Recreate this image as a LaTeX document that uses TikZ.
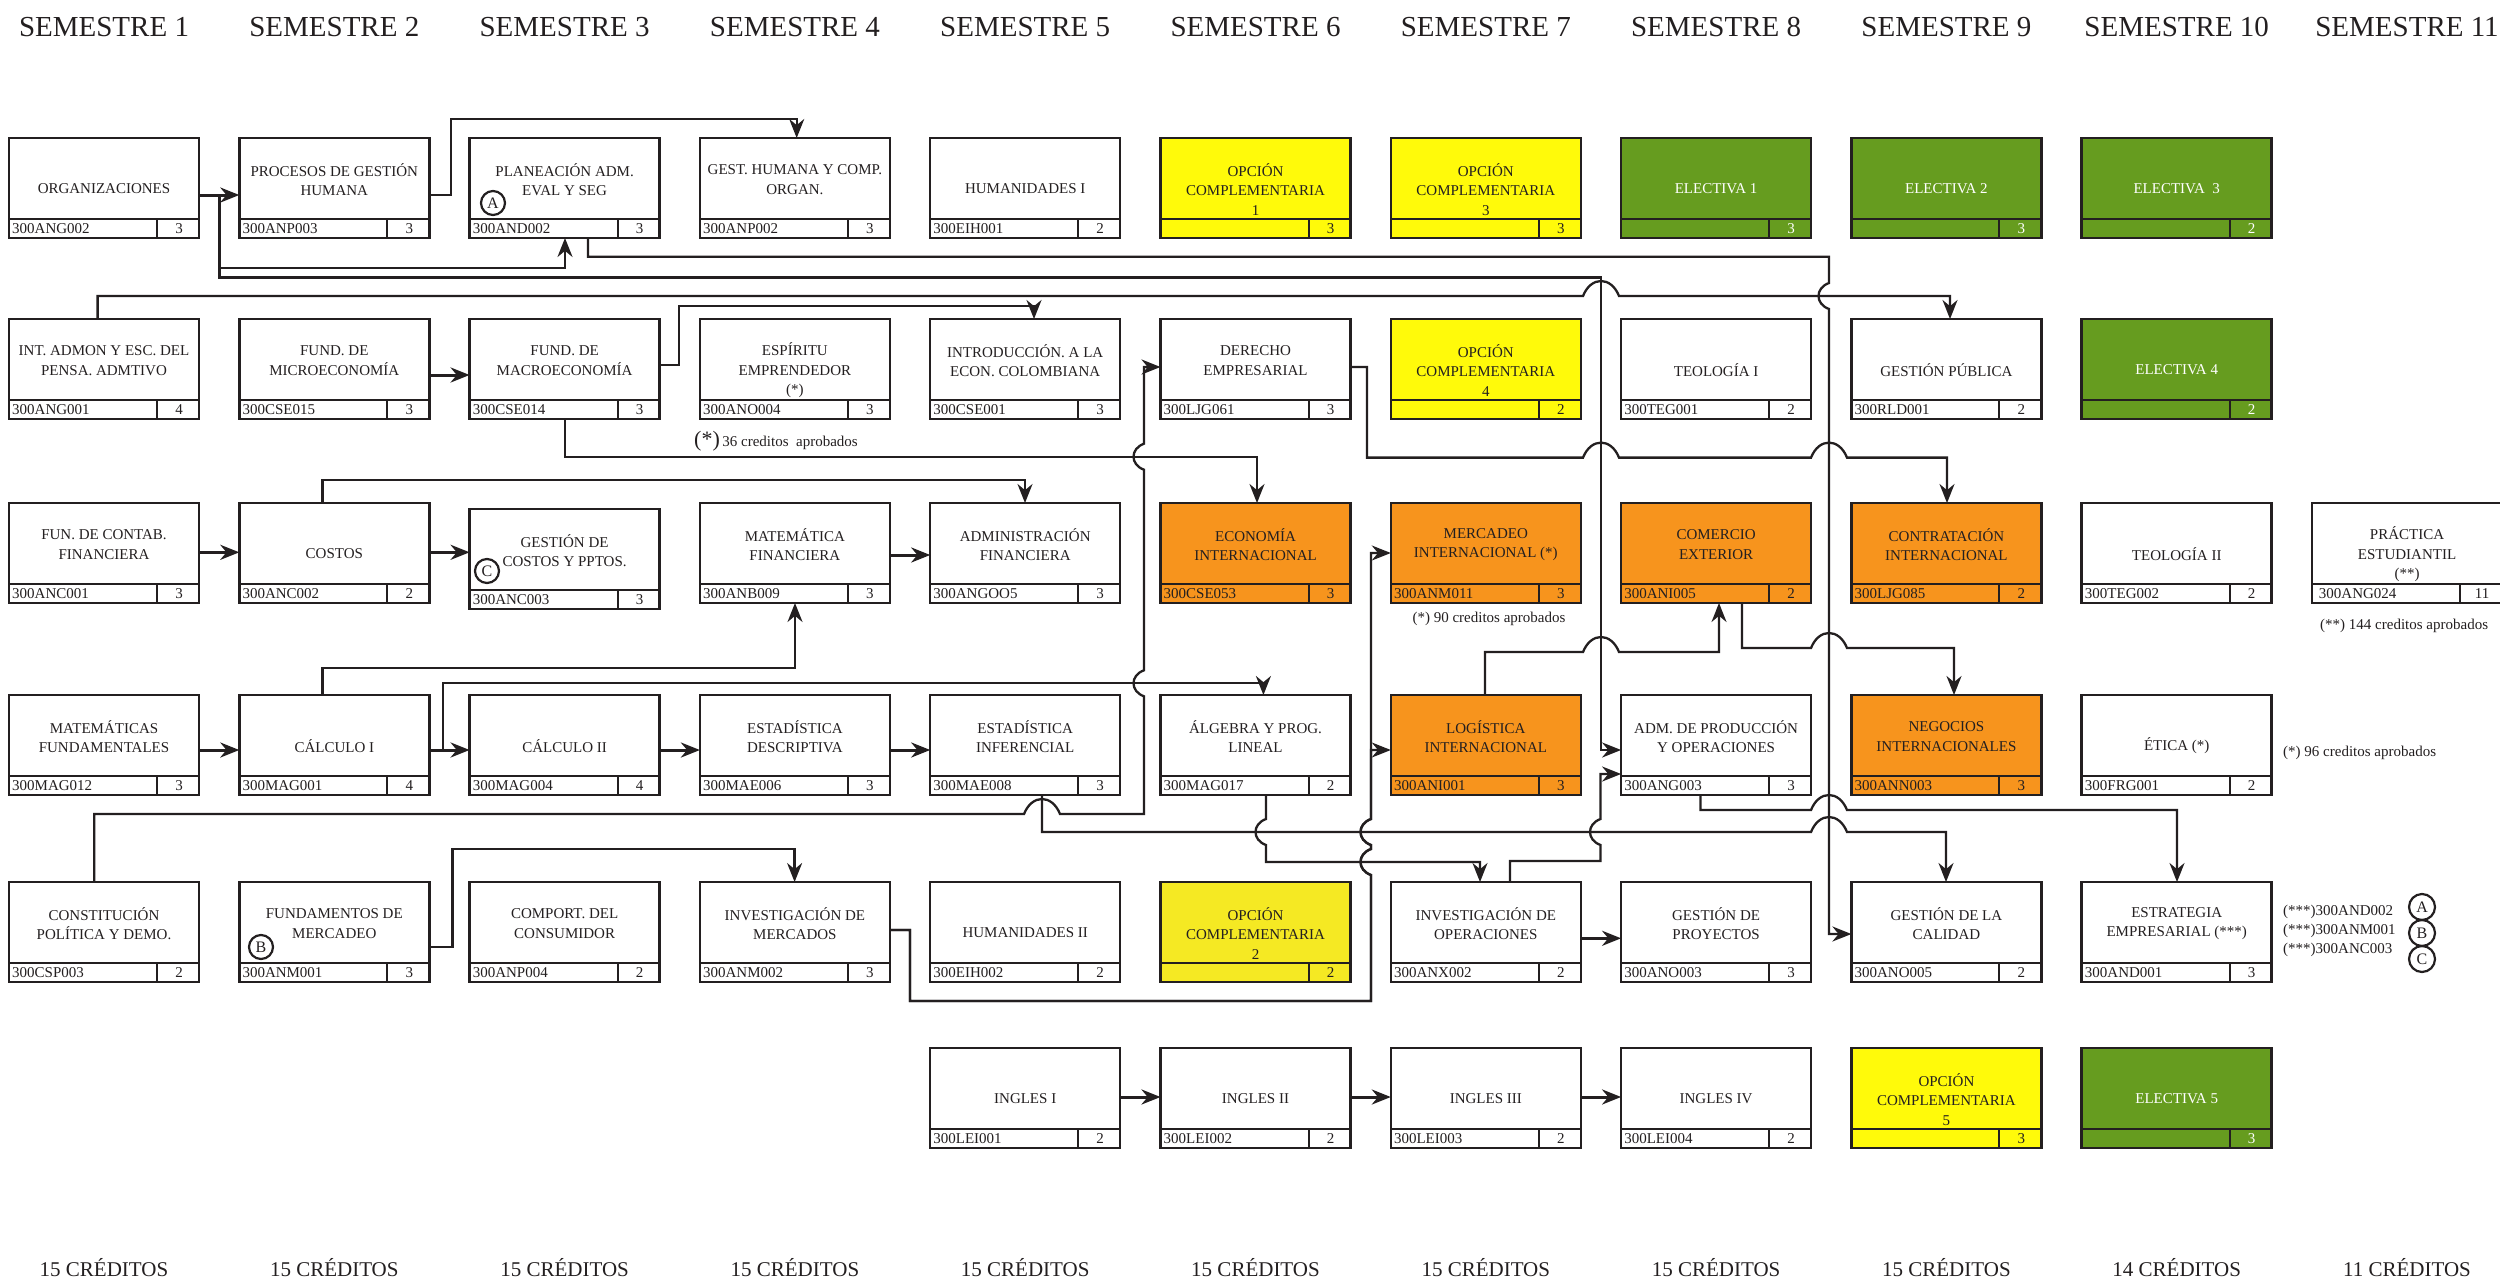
\documentclass[tikz,border=0pt]{standalone}
\usepackage{fontspec}
\setmainfont{Liberation Serif}
\usetikzlibrary{arrows.meta}
\definecolor{ink}{HTML}{231F20}
\definecolor{cyel}{RGB}{255,250,10}
\definecolor{cyeltwo}{RGB}{245,233,35}
\definecolor{cgrn}{RGB}{102,156,31}
\definecolor{corg}{RGB}{247,148,29}
\tikzset{
  cbox/.style={draw=ink, line width=2.5pt, minimum width=190pt, minimum height=100pt, inner sep=0pt, outer sep=0pt},
  ctext/.style={align=center, font=\fontsize{15}{19.5}\selectfont, inner sep=0pt},
  ccode/.style={font=\fontsize{15}{16}\selectfont, inner sep=0pt, anchor=west},
  cnum/.style={font=\fontsize{15}{16}\selectfont, inner sep=0pt},
  conn/.style={draw=ink, line width=2.3pt, -{Stealth[length=19pt,width=15pt]}},
  shortconn/.style={conn, line width=3pt},
  hdr/.style={font=\fontsize{29}{32}\selectfont, text=ink, inner sep=0pt},
  note/.style={font=\fontsize{15}{19}\selectfont, text=ink, inner sep=0pt},
  ring/.style={circle, draw=ink, line width=2.2pt, inner sep=0pt, minimum size=24pt, font=\fontsize{16}{16}\selectfont, text=ink},
}
% #1 name #2 left #3 top #4 fill #5 text colour #6 label offset #7 label #8 code #9 credits
\newcommand\course[9]{%
  \node[cbox, fill=#4] (#1) at ({#2+95},{#3+50}) {};
  \draw[ink, line width=2pt] ({#2},{#3+81}) -- ({#2+190},{#3+81}) ({#2+148},{#3+81}) -- ({#2+148},{#3+100});
  \node[ctext, text=#5] (#1l) at ({#2+95},{#3+#6}) {#7};
  \node[ccode, text=#5] (#1c) at ({#2+3},{#3+90.5}) {#8};
  \node[cnum, text=#5] (#1n) at ({#2+170},{#3+90.5}) {#9};
}
\newcommand\hjump[2]{-- ({#1-18},#2) .. controls ({#1-10},{#2-20}) and ({#1+10},{#2-20}) .. ({#1+18},#2)}
\newcommand\vjdown[2]{-- (#1,{#2-13}) .. controls ({#1-14},{#2-8}) and ({#1-14},{#2+8}) .. (#1,{#2+13})}
\newcommand\vjup[2]{-- (#1,{#2+13}) .. controls ({#1-14},{#2+8}) and ({#1-14},{#2-8}) .. (#1,{#2-13})}
\begin{document}
\begin{tikzpicture}[x=1pt,y=-1pt]
\fill[white] (0,0) rectangle (2500,1282);
\useasboundingbox (0,0) rectangle (2500,1282);
% headers
\foreach \i in {1,...,11} {
  \node[hdr] (h\i) at ({9+(\i-1)*230.3+95},27) {SEMESTRE \i};
}
\foreach \i/\c in {1/15,2/15,3/15,4/15,5/15,6/15,7/15,8/15,9/15,10/14,11/11} {
  \node[font=\fontsize{21}{24}\selectfont, text=ink, inner sep=0pt] (k\i) at ({9+(\i-1)*230.3+95},1268) {\c\ CRÉDITOS};
}
% row 1
\course{c1r1}{9}{138}{white}{ink}{51}{ORGANIZACIONES}{300ANG002}{3}
\course{c2r1}{239.3}{138}{white}{ink}{41.5}{PROCESOS DE GESTIÓN\\HUMANA}{300ANP003}{3}
\course{c3r1}{469.6}{138}{white}{ink}{41.5}{PLANEACIÓN ADM.\\EVAL Y SEG}{300AND002}{3}
\course{c4r1}{699.9}{138}{white}{ink}{41.5}{GEST. HUMANA Y COMP.\\ORGAN.}{300ANP002}{3}
\course{c5r1}{930.2}{138}{white}{ink}{51}{HUMANIDADES I}{300EIH001}{2}
\course{c6r1}{1160.5}{138}{cyel}{ink}{51.5}{OPCIÓN\\COMPLEMENTARIA\\1}{}{3}
\course{c7r1}{1390.8}{138}{cyel}{ink}{51.5}{OPCIÓN\\COMPLEMENTARIA\\3}{}{3}
\course{c8r1}{1621.1}{138}{cgrn}{white}{51}{ELECTIVA 1}{}{3}
\course{c9r1}{1851.4}{138}{cgrn}{white}{51}{ELECTIVA 2}{}{3}
\course{c10r1}{2081.7}{138}{cgrn}{white}{51}{ELECTIVA\ \ 3}{}{2}
% row 2
\course{c1r2}{9}{319}{white}{ink}{41.5}{INT. ADMON Y ESC. DEL\\PENSA. ADMTIVO}{300ANG001}{4}
\course{c2r2}{239.3}{319}{white}{ink}{41.5}{FUND. DE\\MICROECONOMÍA}{300CSE015}{3}
\course{c3r2}{469.6}{319}{white}{ink}{41.5}{FUND. DE\\MACROECONOMÍA}{300CSE014}{3}
\course{c4r2}{699.9}{319}{white}{ink}{51.5}{ESPÍRITU\\EMPRENDEDOR\\(*)}{300ANO004}{3}
\course{c5r2}{930.2}{319}{white}{ink}{41.5}{INTRODUCCIÓN. A LA\\ECON. COLOMBIANA}{300CSE001}{3}
\course{c6r2}{1160.5}{319}{white}{ink}{41.5}{DERECHO\\EMPRESARIAL}{300LJG061}{3}
\course{c7r2}{1390.8}{319}{cyel}{ink}{51.5}{OPCIÓN\\COMPLEMENTARIA\\4}{}{2}
\course{c8r2}{1621.1}{319}{white}{ink}{51}{TEOLOGÍA I}{300TEG001}{2}
\course{c9r2}{1851.4}{319}{white}{ink}{51}{GESTIÓN PÚBLICA}{300RLD001}{2}
\course{c10r2}{2081.7}{319}{cgrn}{white}{51}{ELECTIVA 4}{}{2}
% row 3
\course{c1r3}{9}{503}{white}{ink}{41.5}{FUN. DE CONTAB.\\FINANCIERA}{300ANC001}{3}
\course{c2r3}{239.3}{503}{white}{ink}{51}{COSTOS}{300ANC002}{2}
\course{c3r3}{469.6}{509}{white}{ink}{41.5}{GESTIÓN DE\\COSTOS Y PPTOS.}{300ANC003}{3}
\course{c4r3}{699.9}{503}{white}{ink}{41.5}{MATEMÁTICA\\FINANCIERA}{300ANB009}{3}
\course{c5r3}{930.2}{503}{white}{ink}{41.5}{ADMINISTRACIÓN\\FINANCIERA}{300ANGOO5}{3}
\course{c6r3}{1160.5}{503}{corg}{ink}{41.5}{ECONOMÍA\\INTERNACIONAL}{300CSE053}{3}
\course{c7r3}{1390.8}{503}{corg}{ink}{41.5}{MERCADEO\\INTERNACIONAL (*)}{300ANM011}{3}
\course{c8r3}{1621.1}{503}{corg}{ink}{41.5}{COMERCIO\\EXTERIOR}{300ANI005}{2}
\course{c9r3}{1851.4}{503}{corg}{ink}{41.5}{CONTRATACIÓN\\INTERNACIONAL}{300LJG085}{2}
\course{c10r3}{2081.7}{503}{white}{ink}{51}{TEOLOGÍA II}{300TEG002}{2}
\course{c11r3}{2312}{503}{white}{ink}{51.5}{PRÁCTICA\\ESTUDIANTIL\\(**)}{\ 300ANG024}{11}
% row 4
\course{c1r4}{9}{695}{white}{ink}{41.5}{MATEMÁTICAS\\FUNDAMENTALES}{300MAG012}{3}
\course{c2r4}{239.3}{695}{white}{ink}{51}{CÁLCULO I}{300MAG001}{4}
\course{c3r4}{469.6}{695}{white}{ink}{51}{CÁLCULO II}{300MAG004}{4}
\course{c4r4}{699.9}{695}{white}{ink}{41.5}{ESTADÍSTICA\\DESCRIPTIVA}{300MAE006}{3}
\course{c5r4}{930.2}{695}{white}{ink}{41.5}{ESTADÍSTICA\\INFERENCIAL}{300MAE008}{3}
\course{c6r4}{1160.5}{695}{white}{ink}{41.5}{ÁLGEBRA Y PROG.\\LINEAL}{300MAG017}{2}
\course{c7r4}{1390.8}{695}{corg}{ink}{41.5}{LOGÍSTICA\\INTERNACIONAL}{300ANI001}{3}
\course{c8r4}{1621.1}{695}{white}{ink}{41.5}{ADM. DE PRODUCCIÓN\\Y OPERACIONES}{300ANG003}{3}
\course{c9r4}{1851.4}{695}{corg}{ink}{41.5}{NEGOCIOS\\INTERNACIONALES}{300ANN003}{3}
\course{c10r4}{2081.7}{695}{white}{ink}{51}{ÉTICA (*)}{300FRG001}{2}
% row 5
\course{c1r5}{9}{882}{white}{ink}{41.5}{CONSTITUCIÓN\\POLÍTICA Y DEMO.}{300CSP003}{2}
\course{c2r5}{239.3}{882}{white}{ink}{41.5}{FUNDAMENTOS DE\\MERCADEO}{300ANM001}{3}
\course{c3r5}{469.6}{882}{white}{ink}{41.5}{COMPORT. DEL\\CONSUMIDOR}{300ANP004}{2}
\course{c4r5}{699.9}{882}{white}{ink}{41.5}{INVESTIGACIÓN DE\\MERCADOS}{300ANM002}{3}
\course{c5r5}{930.2}{882}{white}{ink}{51}{HUMANIDADES II}{300EIH002}{2}
\course{c6r5}{1160.5}{882}{cyeltwo}{ink}{51.5}{OPCIÓN\\COMPLEMENTARIA\\2}{}{2}
\course{c7r5}{1390.8}{882}{white}{ink}{41.5}{INVESTIGACIÓN DE\\OPERACIONES}{300ANX002}{2}
\course{c8r5}{1621.1}{882}{white}{ink}{41.5}{GESTIÓN DE\\PROYECTOS}{300ANO003}{3}
\course{c9r5}{1851.4}{882}{white}{ink}{41.5}{GESTIÓN DE LA\\CALIDAD}{300ANO005}{2}
\course{c10r5}{2081.7}{882}{white}{ink}{41.5}{ESTRATEGIA\\EMPRESARIAL (***)}{300AND001}{3}
% row 6
\course{c5r6}{930.2}{1048}{white}{ink}{51}{INGLES I}{300LEI001}{2}
\course{c6r6}{1160.5}{1048}{white}{ink}{51}{INGLES II}{300LEI002}{2}
\course{c7r6}{1390.8}{1048}{white}{ink}{51}{INGLES III}{300LEI003}{2}
\course{c8r6}{1621.1}{1048}{white}{ink}{51}{INGLES IV}{300LEI004}{2}
\course{c9r6}{1851.4}{1048}{cyel}{ink}{51.5}{OPCIÓN\\COMPLEMENTARIA\\5}{}{3}
\course{c10r6}{2081.7}{1048}{cgrn}{white}{51}{ELECTIVA 5}{}{3}
% rings in boxes
\node[ring] (ra) at (493,203) {A};
\node[ring] (rb) at (261,947) {B};
\node[ring] (rc) at (487,571) {C};
% notes
\node[note, anchor=west] (n36) at (694,441) {{\fontsize{22}{22}\selectfont(*)}\,36 creditos\ \ aprobados};
\node[note] (n90) at (1489,619) {(*) 90 creditos aprobados};
\node[note, anchor=west] (n144) at (2320,626) {(**) 144 creditos aprobados};
\node[note, anchor=west] (n96) at (2283,753) {(*) 96 creditos aprobados};
\node[note, anchor=west] (t1) at (2283,912) {(***)300AND002};
\node[note, anchor=west] (t2) at (2283,931) {(***)300ANM001};
\node[note, anchor=west] (t3) at (2283,950) {(***)300ANC003};
\node[ring, minimum size=26pt] (rA) at (2422,907) {A};
\node[ring, minimum size=26pt] (rB) at (2422,933) {B};
\node[ring, minimum size=26pt] (rC) at (2422,959) {C};
% connectors
\draw[shortconn] (c1r1.east |- 0,195) -- (c2r1.west |- 0,195);
\draw[conn] (c1r1.east |- 0,195) -- (219.5,195) -- (219.5,268) -- (565,268) -- (c3r1.south -| 565,0);
\draw[conn] (c1r1.east |- 0,195) -- (219.5,195) -- (219.5,277.5) -- (1601,277.5) -- (1601,750) -- (c8r4.west |- 0,750);
\draw[conn] (c2r1.east |- 0,195) -- (451,195) -- (451,119) -- (796.7,119) -- (c4r1.north -| 796.7,0);
\draw[conn] (c3r1.south -| 588,0) -- (588,256.7) -- (1829,256.7) \vjdown{1829}{296} -- (1829,934) -- (c9r5.west |- 0,934);
\draw[conn] (c1r2.north -| 97.6,0) -- (97.6,296) \hjump{1601}{296} -- (1950,296) -- (c9r2.north -| 1950,0);
\draw[shortconn] (c2r2.east |- 0,375) -- (c3r2.west |- 0,375);
\draw[conn] (c3r2.east |- 0,365) -- (679,365) -- (679,306) -- (1034,306) -- (c5r2.north -| 1034,0);
\draw[conn] (c3r2.south -| 565,0) -- (565,456.7) -- (1257,456.7) -- (c6r3.north -| 1257,0);
\draw[shortconn] (c1r3.east |- 0,552.3) -- (c2r3.west |- 0,552.3);
\draw[shortconn] (c2r3.east |- 0,552.3) -- (c3r3.west |- 0,552.3);
\draw[conn] (c2r3.north -| 322.5,0) -- (322.5,480) -- (1025,480) -- (c5r3.north -| 1025,0);
\draw[shortconn] (c4r3.east |- 0,555) -- (c5r3.west |- 0,555);
\draw[conn] (c2r4.north -| 322.5,0) -- (322.5,668.3) -- (795,668.3) -- (c4r3.south -| 795,0);
\draw[shortconn] (c1r4.east |- 0,750) -- (c2r4.west |- 0,750);
\draw[shortconn] (c2r4.east |- 0,750) -- (c3r4.west |- 0,750);
\draw[shortconn] (c3r4.east |- 0,750) -- (c4r4.west |- 0,750);
\draw[shortconn] (c4r4.east |- 0,750) -- (c5r4.west |- 0,750);
\draw[conn] (c2r4.east |- 0,750) -- (442.8,750) -- (442.8,683.3) -- (1263.4,683.3) -- (c6r4.north -| 1263.4,0);
\draw[conn] (c1r5.north -| 94.3,0) -- (94.3,814) \hjump{1042}{814} -- (1144,814) \vjup{1144}{683.3} \vjup{1144}{456.7} -- (1144,367) -- (c6r2.west |- 0,367);
\draw[conn] (c5r4.south -| 1042,0) -- (1042,832) \hjump{1829}{832} -- (1946,832) -- (c9r5.north -| 1946,0);
\draw[conn] (c6r4.south -| 1266,0) \vjdown{1266}{832} -- (1266,862) -- (1480,862) -- (c7r5.north -| 1480,0);
\draw[conn] (c2r5.east |- 0,946.7) -- (452.6,946.7) -- (452.6,849.3) -- (794.6,849.3) -- (c4r5.north -| 794.6,0);
\draw[conn] (c4r5.east |- 0,930) -- (910,930) -- (910,1001) -- (1371,1001) \vjup{1371}{862} \vjup{1371}{832} -- (1371,553) -- (c7r3.west |- 0,553);
\draw[conn] (c4r5.east |- 0,930) -- (910,930) -- (910,1001) -- (1371,1001) \vjup{1371}{862} \vjup{1371}{832} -- (1371,750) -- (c7r4.west |- 0,750);
\draw[conn] (c7r5.north -| 1510,0) -- (1510,861) -- (1600.5,861) \vjup{1600.5}{832} -- (1600.5,774) -- (c8r4.west |- 0,774);
\draw[shortconn] (c7r5.east |- 0,938.3) -- (c8r5.west |- 0,938.3);
\draw[conn] (c7r4.north -| 1485,0) -- (1485,652) \hjump{1601}{652} -- (1719,652) -- (c8r3.south -| 1719,0);
\draw[conn] (c8r3.south -| 1742,0) -- (1742,648) \hjump{1829}{648} -- (1954,648) -- (c9r4.north -| 1954,0);
\draw[conn] (c6r2.east |- 0,367) -- (1367,367) -- (1367,457.6) \hjump{1601}{457.6} \hjump{1829}{457.6} -- (1947,457.6) -- (c9r3.north -| 1947,0);
\draw[conn] (c8r4.south -| 1700.5,0) -- (1700.5,810) \hjump{1829}{810} -- (2177,810) -- (c10r5.north -| 2177,0);
\draw[shortconn] (c5r6.east |- 0,1097) -- (c6r6.west |- 0,1097);
\draw[shortconn] (c6r6.east |- 0,1097) -- (c7r6.west |- 0,1097);
\draw[shortconn] (c7r6.east |- 0,1097) -- (c8r6.west |- 0,1097);
\end{tikzpicture}
\end{document}
